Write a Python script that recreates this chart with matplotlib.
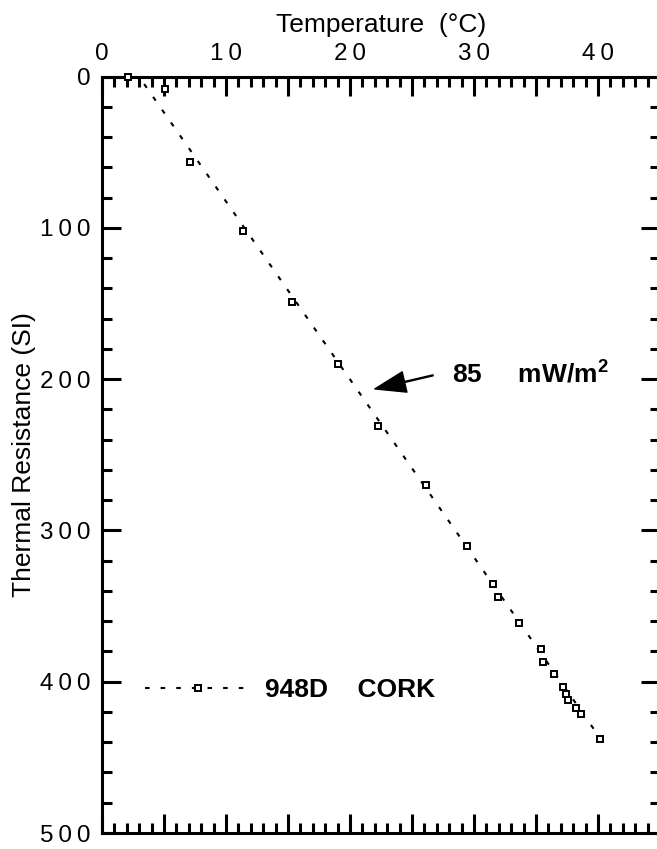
import matplotlib
matplotlib.use("Agg")
import matplotlib.pyplot as plt
from matplotlib.ticker import MultipleLocator, FuncFormatter

plt.rcParams['font.family'] = ['Liberation Sans', 'DejaVu Sans']
plt.rcParams['mathtext.fontset'] = 'custom'
plt.rcParams['mathtext.rm'] = 'Liberation Sans'
plt.rcParams['mathtext.bf'] = 'Liberation Sans:bold'

# ---- data ----
temperature = [2.1, 5.1, 7.1, 11.4, 15.35, 19.0, 22.25, 26.15, 29.45, 31.5,
               31.95, 33.6, 35.4, 35.55, 36.45, 37.2, 37.42, 37.58, 38.22,
               38.62, 40.18]
resistance = [0.0, 8.5, 56.3, 101.9, 148.8, 190.0, 230.8, 270.0, 310.1, 335.2,
              343.8, 361.0, 378.2, 386.8, 394.7, 403.3, 408.1, 412.3, 417.2,
              421.4, 437.7]
fit_temperature = [3.4, 40.4]
fit_resistance = [5.0, 440.0]
series_label = "948D    CORK"
flux_value = "85"
flux_unit = r"mW/m$^{\mathbf{2}}$"
x_tick_labels = ["0", "10", "20", "30", "40"]
y_tick_labels = ["0", "100", "200", "300", "400", "500"]

fig = plt.figure(figsize=(6.57, 8.49), dpi=100)
ax = fig.add_axes([102/657, 1 - 833/849, 558/657, (833 - 76.5)/849])

ax.plot(fit_temperature, fit_resistance, color='black', lw=1.5,
        dashes=(2.2, 5.3), label='_nolegend_')
ax.plot(temperature, resistance, linestyle='none', marker='s', ms=4.2,
        mfc='white', mec='black', mew=1.4, clip_on=False, zorder=5)

# legend proxy
ax.plot([], [], color='black', lw=1.5, dashes=(2.2, 5.3), marker='s', ms=4.2,
        mfc='white', mec='black', mew=1.4, label=series_label)
ax.legend(loc='center left', bbox_to_anchor=(0.077, 0.189),
          frameon=False, borderpad=0, borderaxespad=0,
          handlelength=4.05, handletextpad=0.5, numpoints=1,
          prop={'size': 19, 'weight': 'bold'})

ax.set_xlim(0, 45)
ax.set_ylim(500, 0)

def spaced(s):
    return "\u2009".join(s)

ax.xaxis.set_major_locator(MultipleLocator(5))
ax.xaxis.set_minor_locator(MultipleLocator(1))
ax.xaxis.set_major_formatter(FuncFormatter(
    lambda v, p: spaced(x_tick_labels[int(round(v)) // 10])
    if int(round(v)) % 10 == 0 and int(round(v)) // 10 < len(x_tick_labels) else ""))
ax.yaxis.set_major_locator(MultipleLocator(100))
ax.yaxis.set_minor_locator(MultipleLocator(20))
ax.yaxis.set_major_formatter(FuncFormatter(
    lambda v, p: spaced(y_tick_labels[int(round(v)) // 100])
    if int(round(v)) // 100 < len(y_tick_labels) else ""))

ax.xaxis.tick_top()
ax.xaxis.set_label_position('top')
ax.tick_params(axis='both', which='both', direction='in', top=True,
               bottom=True, left=True, right=True, width=2.2, labelsize=17.5,
               pad=8.3)
ax.tick_params(axis='both', which='major', length=14)
ax.tick_params(axis='both', which='minor', length=7.5)
ax.tick_params(axis='x', labelbottom=False, labeltop=True)
for sp in ax.spines.values():
    sp.set_linewidth(2.2)

ax.set_xlabel("Temperature  (\u00b0C)", fontsize=19, labelpad=8)
ax.set_ylabel("Thermal Resistance (SI)", fontsize=19, labelpad=3)

ax.annotate("", xy=(22.0, 206.5), xytext=(26.7, 197.5),
            arrowprops=dict(width=0.7, headwidth=15, headlength=22,
                            facecolor='black', edgecolor='black', shrink=0))
ax.text(28.2, 202.3, flux_value + "     " + flux_unit, fontsize=19,
        fontweight='bold', ha='left', va='baseline')

fig.savefig("out.png", dpi=100)
